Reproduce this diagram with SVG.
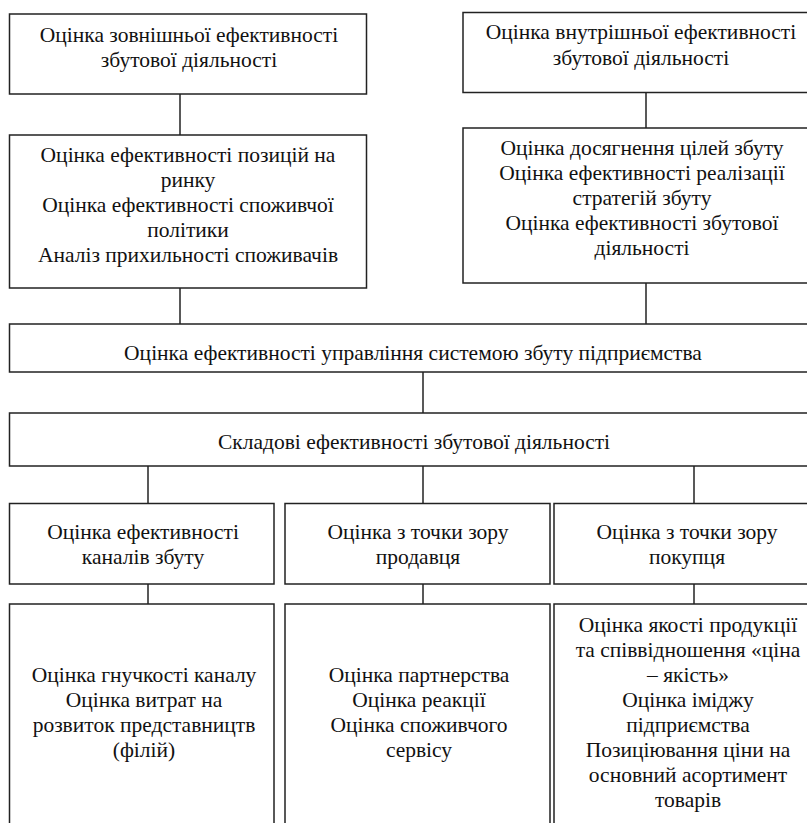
<svg xmlns="http://www.w3.org/2000/svg" width="807" height="823" viewBox="0 0 807 823">
<style>
.box{fill:#fff;stroke:#222;stroke-width:1.5}
.ln{stroke:#222;stroke-width:1.5;fill:none}
text{font-family:"Liberation Serif","Times New Roman",serif;font-size:21.5px;fill:#111;text-anchor:middle}
</style>
<rect width="807" height="823" fill="#fff"/>
<g id="connectors">
<line class="ln" x1="180" y1="94" x2="180" y2="135"/>
<line class="ln" x1="646" y1="92" x2="646" y2="128"/>
<line class="ln" x1="180" y1="288" x2="180" y2="324"/>
<line class="ln" x1="646" y1="283" x2="646" y2="324"/>
<line class="ln" x1="423" y1="372" x2="423" y2="413"/>
<line class="ln" x1="148" y1="466" x2="148" y2="503"/>
<line class="ln" x1="423" y1="466" x2="423" y2="503"/>
<line class="ln" x1="694" y1="466" x2="694" y2="503"/>
<line class="ln" x1="148" y1="584" x2="148" y2="604"/>
<line class="ln" x1="423" y1="584" x2="423" y2="604"/>
<line class="ln" x1="694" y1="584" x2="694" y2="604"/>
</g>
<g id="nodeA">
<rect class="box" x="9.5" y="14" width="357" height="80"/>
<text x="189" y="42">Оцінка зовнішньої ефективності</text>
<text x="189" y="67">збутової діяльності</text>
</g>
<g id="nodeB">
<rect class="box" x="463" y="12.5" width="350" height="80"/>
<text x="641" y="39">Оцінка внутрішньої ефективності</text>
<text x="641" y="65">збутової діяльності</text>
</g>
<g id="nodeC">
<rect class="box" x="9.5" y="135" width="357" height="153"/>
<text x="188" y="162">Оцінка ефективності позицій на</text>
<text x="188" y="187">ринку</text>
<text x="188" y="212">Оцінка ефективності споживчої</text>
<text x="188" y="237">політики</text>
<text x="188" y="262">Аналіз прихильності споживачів</text>
</g>
<g id="nodeD">
<rect class="box" x="463" y="128" width="350" height="155"/>
<text x="642" y="155">Оцінка досягнення цілей збуту</text>
<text x="642" y="180">Оцінка ефективності реалізації</text>
<text x="642" y="205">стратегій збуту</text>
<text x="642" y="230">Оцінка ефективності збутової</text>
<text x="642" y="255">діяльності</text>
</g>
<g id="nodeE">
<rect class="box" x="9.5" y="324" width="805" height="48"/>
<text x="413" y="360">Оцінка ефективності управління системою збуту підприємства</text>
</g>
<g id="nodeF">
<rect class="box" x="9.5" y="413" width="805" height="53"/>
<text x="414" y="449">Складові ефективності збутової діяльності</text>
</g>
<g id="nodeG1">
<rect class="box" x="9.5" y="503.5" width="264.5" height="80.5"/>
<text x="143" y="539">Оцінка ефективності</text>
<text x="143" y="564">каналів збуту</text>
</g>
<g id="nodeG2">
<rect class="box" x="285" y="503.5" width="265" height="80.5"/>
<text x="418" y="539">Оцінка з точки зору</text>
<text x="418" y="564">продавця</text>
</g>
<g id="nodeG3">
<rect class="box" x="554" y="503.5" width="260" height="80.5"/>
<text x="687" y="539">Оцінка з точки зору</text>
<text x="687" y="564">покупця</text>
</g>
<g id="nodeH1">
<rect class="box" x="9.5" y="604" width="264.5" height="230"/>
<text x="144" y="682">Оцінка гнучкості каналу</text>
<text x="144" y="707">Оцінка витрат на</text>
<text x="144" y="732">розвиток представництв</text>
<text x="144" y="757">(філій)</text>
</g>
<g id="nodeH2">
<rect class="box" x="285" y="604" width="265" height="230"/>
<text x="419" y="682">Оцінка партнерства</text>
<text x="419" y="707">Оцінка реакції</text>
<text x="419" y="732">Оцінка споживчого</text>
<text x="419" y="757">сервісу</text>
</g>
<g id="nodeH3">
<rect class="box" x="554" y="604" width="260" height="230"/>
<text x="688" y="632">Оцінка якості продукції</text>
<text x="688" y="657">та співвідношення «ціна</text>
<text x="688" y="682">– якість»</text>
<text x="688" y="707">Оцінка іміджу</text>
<text x="688" y="732">підприємства</text>
<text x="688" y="757">Позиціювання ціни на</text>
<text x="688" y="782">основний асортимент</text>
<text x="688" y="807">товарів</text>
</g>
</svg>
